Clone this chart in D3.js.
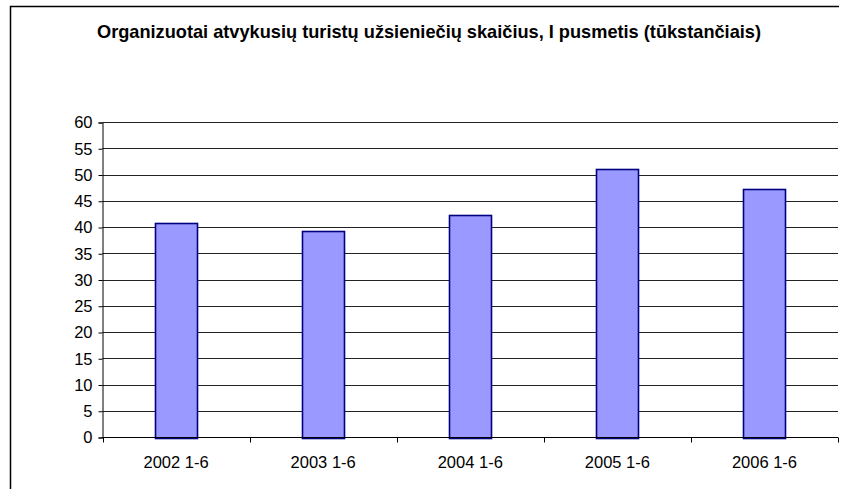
<!DOCTYPE html>
<html lang="en">
<head>
<meta charset="utf-8">
<script src="https://cdn.jsdelivr.net/npm/d3@7"></script>
<style>
  body { margin: 0; background: #fff; }
  text { font-family: "Liberation Sans", Arial, sans-serif; }
</style>
</head>
<body>
<script>
var categories = ["2002 1-6", "2003 1-6", "2004 1-6", "2005 1-6", "2006 1-6"];
var values = [40.9, 39.4, 42.4, 51.2, 47.4];
var yTicks = [0, 5, 10, 15, 20, 25, 30, 35, 40, 45, 50, 55, 60];
var title = "Organizuotai atvykusių turistų užsieniečių skaičius, I pusmetis (tūkstančiais)";

var width = 843, height = 489;
var plotLeft = 102.5, plotRight = 838, plotTop = 122.5, plotBottom = 437.5;

var svg = d3.select("body").append("svg")
  .attr("width", width)
  .attr("height", height);

// outer frame: only top and left edges are in the picture
svg.append("path")
  .attr("d", "M10.5,489V6.5H839")
  .attr("fill", "none")
  .attr("stroke", "#000")
  .attr("stroke-width", 1.5);

svg.append("text")
  .attr("x", 429).attr("y", 38)
  .attr("text-anchor", "middle")
  .style("font-size", "18.2px")
  .style("font-weight", "bold")
  .text(title);

var x = d3.scaleBand().domain(categories).range([plotLeft, plotRight]);
var y = d3.scaleLinear().domain([0, 60]).range([plotBottom, plotTop]);

// gridlines
svg.append("g").selectAll("line")
  .data(yTicks.filter(function(d) { return d > 0; }))
  .enter().append("line")
  .attr("x1", plotLeft).attr("x2", plotRight)
  .attr("y1", function(d) { return Math.round(y(d) - 0.5) + 0.5; })
  .attr("y2", function(d) { return Math.round(y(d) - 0.5) + 0.5; })
  .attr("stroke", "#222")
  .attr("stroke-width", 1);

// bars
var barW = x.bandwidth() / 3.5;
svg.append("g").selectAll("rect")
  .data(values)
  .enter().append("rect")
  .attr("x", function(d, i) { return Math.round(x(categories[i]) + (x.bandwidth() - barW) / 2) + 0.5; })
  .attr("y", function(d) { return Math.round(y(d)) + 0.5; })
  .attr("width", Math.round(barW))
  .attr("height", function(d) { return Math.round(y(0)) - Math.round(y(d)); })
  .attr("fill", "#9999ff")
  .attr("stroke", "#000080")
  .attr("stroke-width", 1.6);

// y axis
var gy = svg.append("g")
  .attr("transform", "translate(" + plotLeft + ",0)")
  .call(d3.axisLeft(y).tickValues(yTicks).tickSize(4).tickPadding(6));
gy.selectAll("text").style("font-size", "16.5px").attr("fill", "#000");
gy.selectAll("line, path").attr("stroke", "#000");

// x axis
var gx = svg.append("g")
  .attr("transform", "translate(0," + plotBottom + ")")
  .call(d3.axisBottom(x).tickSize(0).tickPadding(19));
gx.select(".domain").remove();
gx.selectAll("text").style("font-size", "16.5px").attr("fill", "#000");
gx.append("line")
  .attr("x1", plotLeft).attr("x2", plotRight)
  .attr("stroke", "#000");
gx.selectAll(".sep")
  .data(categories.concat([null]))
  .enter().append("line")
  .attr("class", "sep")
  .attr("x1", function(d, i) { return Math.round(plotLeft + i * x.bandwidth()) + 0.5; })
  .attr("x2", function(d, i) { return Math.round(plotLeft + i * x.bandwidth()) + 0.5; })
  .attr("y1", 0).attr("y2", 5)
  .attr("stroke", "#000");
</script>
</body>
</html>
